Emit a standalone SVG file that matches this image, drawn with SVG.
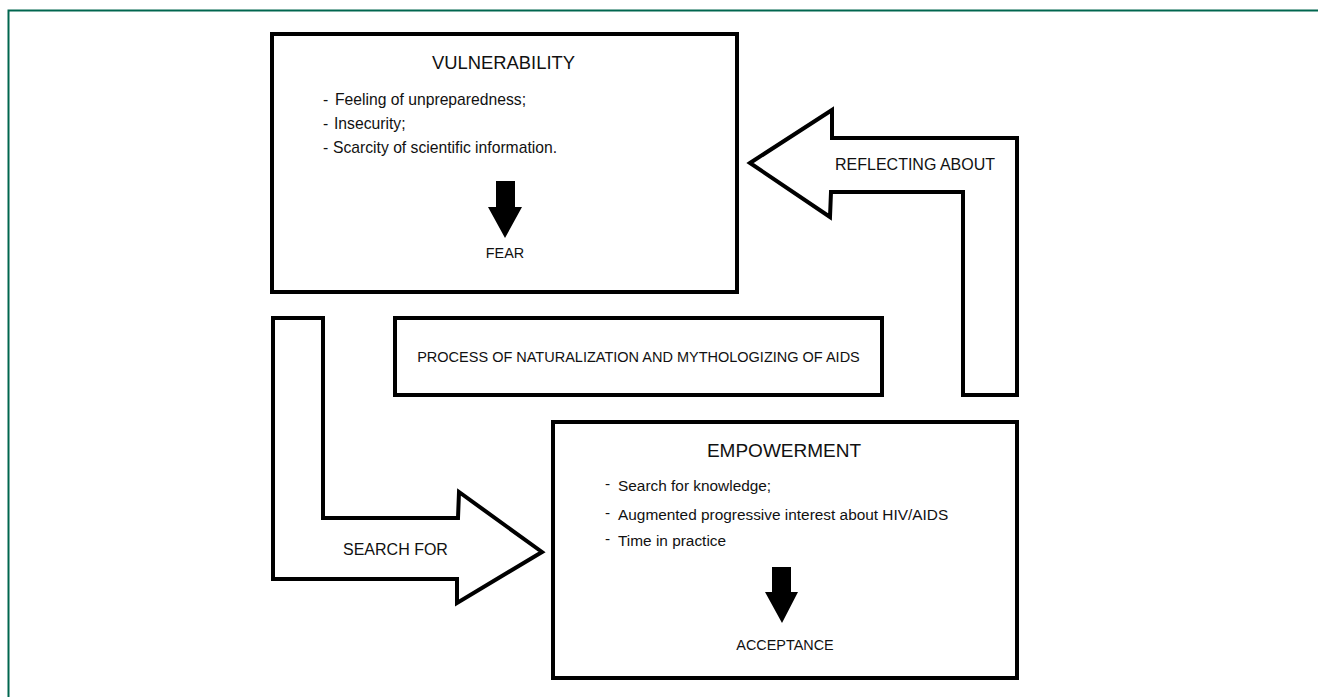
<svg xmlns="http://www.w3.org/2000/svg" width="1318" height="697" viewBox="0 0 1318 697">
<style>
.box{fill:#fff;stroke:#000;stroke-width:4;stroke-linejoin:miter}
.conn{fill:#fff;stroke:#000;stroke-width:4;stroke-linejoin:miter}
.solid{fill:#000;stroke:none}
text{font-family:"Liberation Sans",Arial,Helvetica,sans-serif;fill:#111}
.title{font-size:18.4px;text-anchor:middle}
.title2{font-size:19px;text-anchor:middle}
.item{font-size:15.7px}
.item2{font-size:15.4px}
.lbl{font-size:16px}
.small{font-size:14.4px;text-anchor:middle}
</style>
<rect width="1318" height="697" fill="#fff"/>
<path d="M8.5,697 V10.5 H1318" fill="none" stroke="#00664f" stroke-width="2"/>

<g id="connectors">
  <g id="reflecting-about">
    <polygon class="conn" points="750,163 832,110 832,138 1017,138 1017,395 963,395 963,192 831,192 830,217"/>
    <text class="lbl" x="835" y="170">REFLECTING ABOUT</text>
  </g>
  <g id="search-for">
    <polygon class="conn" points="273,318 323,318 323,518 458,518 459,492 542,552 457,603 457,579 273,579"/>
    <text class="lbl" x="343" y="555">SEARCH FOR</text>
  </g>
</g>

<g id="vulnerability">
  <rect class="box" x="272" y="34" width="465" height="258"/>
  <text class="title" x="503.5" y="69">VULNERABILITY</text>
  <text class="item" x="323" y="105">-</text><text class="item" x="335" y="105">Feeling of unpreparedness;</text>
  <text class="item" x="323" y="129">-</text><text class="item" x="334" y="129">Insecurity;</text>
  <text class="item" x="323" y="153">-</text><text class="item" x="333" y="153">Scarcity of scientific information.</text>
  <polygon class="solid" points="496,181 515,181 515,207 522,207 505,238 488,207 496,207"/>
  <text class="small" x="505" y="258">FEAR</text>
</g>

<g id="process">
  <rect class="box" x="395" y="318" width="487" height="77"/>
  <text x="638.5" y="362" style="font-size:14.5px;text-anchor:middle">PROCESS OF NATURALIZATION AND MYTHOLOGIZING OF AIDS</text>
</g>

<g id="empowerment">
  <rect class="box" x="553" y="422" width="464" height="256"/>
  <text class="title2" x="784" y="457">EMPOWERMENT</text>
  <text class="item2" x="605" y="489">-</text><text class="item2" x="618" y="491">Search for knowledge;</text>
  <text class="item2" x="605" y="518">-</text><text class="item2" x="618" y="520">Augmented progressive interest about HIV/AIDS</text>
  <text class="item2" x="605" y="544">-</text><text class="item2" x="618" y="546">Time in practice</text>
  <polygon class="solid" points="772,567 791,567 791,592 798,592 782,623 765,592 772,592"/>
  <text class="small" x="785" y="650">ACCEPTANCE</text>
</g>
</svg>
